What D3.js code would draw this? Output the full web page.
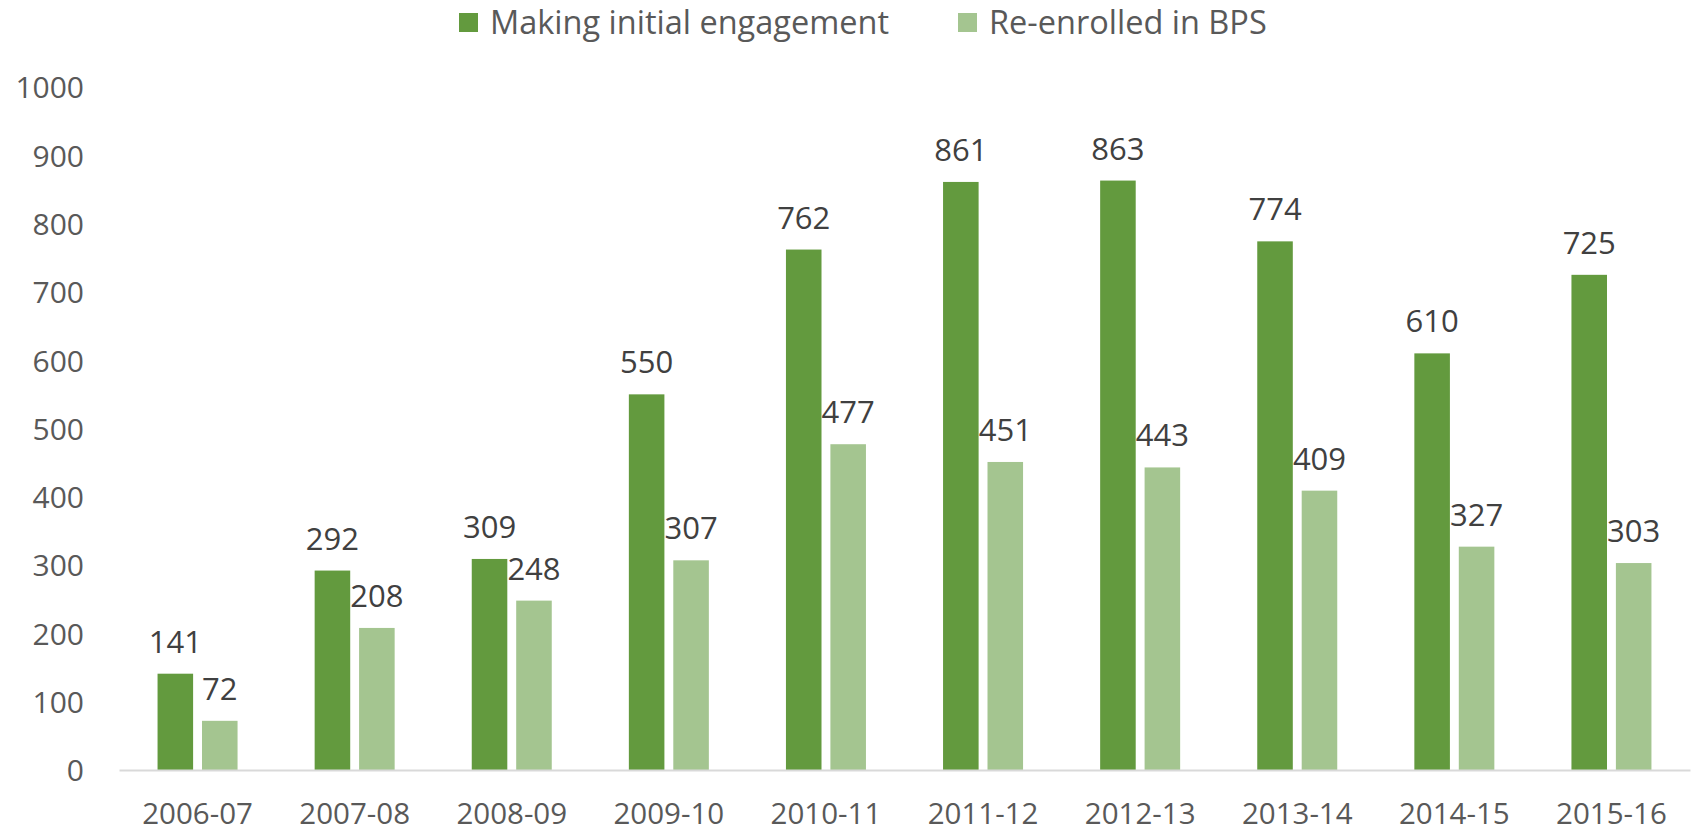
<!DOCTYPE html>
<html><head><meta charset="utf-8">
<script src="https://cdn.jsdelivr.net/npm/d3@7"></script>
<style>body{margin:0;background:#fff}svg{display:block}</style>
</head><body>
<script>
const categories = ["2006-07","2007-08","2008-09","2009-10","2010-11","2011-12","2012-13","2013-14","2014-15","2015-16"];
const seriesNames = ["Making initial engagement","Re-enrolled in BPS"];
const initialEngagement = [141,292,309,550,762,861,863,774,610,725];
const reEnrolled = [72,208,248,307,477,451,443,409,327,303];
const yTicks = [0,100,200,300,400,500,600,700,800,900,1000];
const colors = ["#639a3e","#a4c590"];

const W = 1692, H = 834;
const font = "'Open Sans', sans-serif";
const svg = d3.select("body").append("svg").attr("width",W).attr("height",H);

const x0 = d3.scaleBand().domain(categories).range([119,1690]).paddingInner(0).paddingOuter(0);
const x1 = d3.scaleBand().domain(seriesNames).range([0,80]).paddingInner(0.2).paddingOuter(0);
const y = d3.scaleLinear().domain([0,1000]).range([770,87]);

const rows = categories.map((c,i)=>({cat:c, vals:[initialEngagement[i], reEnrolled[i]]}));

// y axis labels
const yAxis = d3.axisLeft(y).tickValues(yTicks).tickFormat(d3.format("d")).tickSize(0).tickPadding(0);
const ya = svg.append("g").attr("transform","translate(84,0)").call(yAxis);
ya.select(".domain").remove();
ya.selectAll("text").attr("font-family",font).attr("font-size",30).attr("fill","#595959").attr("dy","0.36em");

// bars
const g = svg.append("g");
const groups = g.selectAll("g.grp").data(rows).join("g")
  .attr("transform",d=>`translate(${x0(d.cat)+x0.bandwidth()/2-40},0)`);
groups.selectAll("rect").data(d=>d.vals.map((v,j)=>({v,s:seriesNames[j],j}))).join("rect")
  .attr("x",d=>x1(d.s)).attr("width",x1.bandwidth())
  .attr("y",d=>y(d.v)).attr("height",d=>y(0)-y(d.v))
  .attr("fill",d=>colors[d.j]);
groups.selectAll("text").data(d=>d.vals.map((v,j)=>({v,s:seriesNames[j],j}))).join("text")
  .attr("x",d=>x1(d.s)+x1.bandwidth()/2).attr("y",d=>y(d.v)-21)
  .attr("text-anchor","middle").attr("font-family",font).attr("font-size",31).attr("fill","#404040")
  .text(d=>d.v);

// x axis
const xAxis = d3.axisBottom(x0).tickSize(0).tickPadding(0);
const xa = svg.append("g").attr("transform","translate(0,770)").call(xAxis);
xa.select(".domain").attr("stroke","#d9d9d9").attr("stroke-width",2);
xa.selectAll("text").attr("font-family",font).attr("font-size",29.5).attr("fill","#595959").attr("y",54).attr("dy",0);

// legend
const legendX = [459, 958];
const lg = svg.append("g");
seriesNames.forEach((s,i)=>{
  lg.append("rect").attr("x",legendX[i]).attr("y",13).attr("width",19).attr("height",19).attr("fill",colors[i]);
  lg.append("text").attr("x",legendX[i]+31).attr("y",34).attr("font-family",font).attr("font-size",32.5).attr("fill","#595959").text(s);
});
</script>
</body></html>
